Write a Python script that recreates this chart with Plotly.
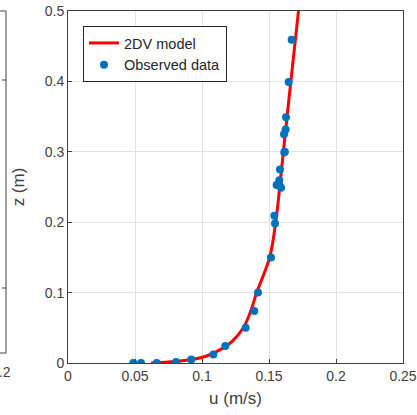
import plotly.graph_objects as go

# Model curve (u in m/s, z in m)
model_u = [0.062, 0.080, 0.0923, 0.1035, 0.1147, 0.1221, 0.1309, 0.1366, 0.1408, 0.1505, 0.155, 0.158, 0.1607, 0.1663, 0.172]
model_z = [0.0, 0.002, 0.005, 0.01, 0.02, 0.03, 0.05, 0.075, 0.1, 0.15, 0.2, 0.25, 0.3, 0.4, 0.5]

# Observed data
obs_u = [0.0487, 0.0545, 0.0662, 0.0806, 0.092, 0.1085, 0.1174, 0.1326, 0.139, 0.1418,
         0.1515, 0.1545, 0.154, 0.1557, 0.159, 0.1575, 0.1577, 0.1582, 0.1614, 0.1618,
         0.1612, 0.1624, 0.1627, 0.1647, 0.1669]
obs_z = [0.0, 0.0, 0.0, 0.0014, 0.005, 0.012, 0.024, 0.050, 0.074, 0.100,
         0.150, 0.198, 0.209, 0.253, 0.249, 0.254, 0.2595, 0.275, 0.299, 0.300,
         0.325, 0.3315, 0.349, 0.399, 0.459]

x_ticks = [0, 0.05, 0.1, 0.15, 0.2, 0.25]
x_ticklabels = ["0", "0.05", "0.1", "0.15", "0.2", "0.25"]
y_ticks = [0, 0.1, 0.2, 0.3, 0.4, 0.5]
y_ticklabels = ["0", "0.1", "0.2", "0.3", "0.4", "0.5"]

AX = "#404040"
FONT = "Liberation Sans, Arial, sans-serif"

fig = go.Figure()
fig.add_trace(go.Scatter(x=model_u, y=model_z, mode="lines", name="2DV model",
                         line=dict(color="#ff0000", width=3, shape="spline", smoothing=1.0)))
fig.add_trace(go.Scatter(x=obs_u, y=obs_z, mode="markers", name="Observed data",
                         marker=dict(color="#0072BD", size=8, symbol="circle")))

W, H = 417, 415
L, R, T, B = 68, 14, 11, 52
pw, ph = W - L - R, H - T - B

def px(xp):
    return (xp - L) / pw

def py(yp):
    return (H - B - yp) / ph

shapes = [
    # partially visible neighbouring panel frame
    dict(type="line", xref="paper", yref="paper", x0=px(6), x1=px(6), y0=py(11), y1=py(353),
         line=dict(color=AX, width=1)),
    dict(type="line", xref="paper", yref="paper", x0=px(-2), x1=px(6), y0=py(353), y1=py(353),
         line=dict(color=AX, width=1)),
    dict(type="line", xref="paper", yref="paper", x0=px(-2), x1=px(6), y0=py(11), y1=py(11),
         line=dict(color=AX, width=1)),
    dict(type="line", xref="paper", yref="paper", x0=px(2), x1=px(6), y0=py(80), y1=py(80),
         line=dict(color=AX, width=1)),
    dict(type="line", xref="paper", yref="paper", x0=px(2), x1=px(6), y0=py(288), y1=py(288),
         line=dict(color=AX, width=1)),
]

annotations = [
    dict(text="0.2", xref="paper", yref="paper", x=px(13), y=py(372), xanchor="right",
         yanchor="middle", showarrow=False, font=dict(family=FONT, size=14, color=AX)),
]

fig.update_layout(
    template="none",
    width=W, height=H,
    margin=dict(l=L, r=R, t=T, b=B, autoexpand=False),
    paper_bgcolor="white", plot_bgcolor="white",
    font=dict(family=FONT, size=14, color=AX),
    shapes=shapes, annotations=annotations,
    legend=dict(x=px(83), y=py(26), xanchor="left", yanchor="top",
                bgcolor="white", bordercolor="#262626", borderwidth=1,
                font=dict(family=FONT, size=14.5, color="#262626"),
                tracegroupgap=0),
    showlegend=True,
)
fig.update_xaxes(range=[0, 0.25], tickvals=x_ticks, ticktext=x_ticklabels, automargin=False,
                 ticks="inside", ticklen=4, tickcolor=AX, showline=True, linecolor=AX,
                 linewidth=1, mirror=True, showgrid=True, gridcolor="#e3e3e3",
                 zeroline=False, title=dict(text="u (m/s)", standoff=9,
                                            font=dict(family=FONT, size=17, color=AX)))
fig.update_yaxes(range=[0, 0.5], tickvals=y_ticks, ticktext=y_ticklabels, automargin=False,
                 ticks="inside", ticklen=4, tickcolor=AX, showline=True, linecolor=AX,
                 linewidth=1, mirror=True, showgrid=True, gridcolor="#e3e3e3",
                 zeroline=False, title=dict(text="z (m)", standoff=15,
                                            font=dict(family=FONT, size=17, color=AX)))

fig.write_html("out.html", config={"displayModeBar": False},
               post_script="document.body.style.margin='0';")
